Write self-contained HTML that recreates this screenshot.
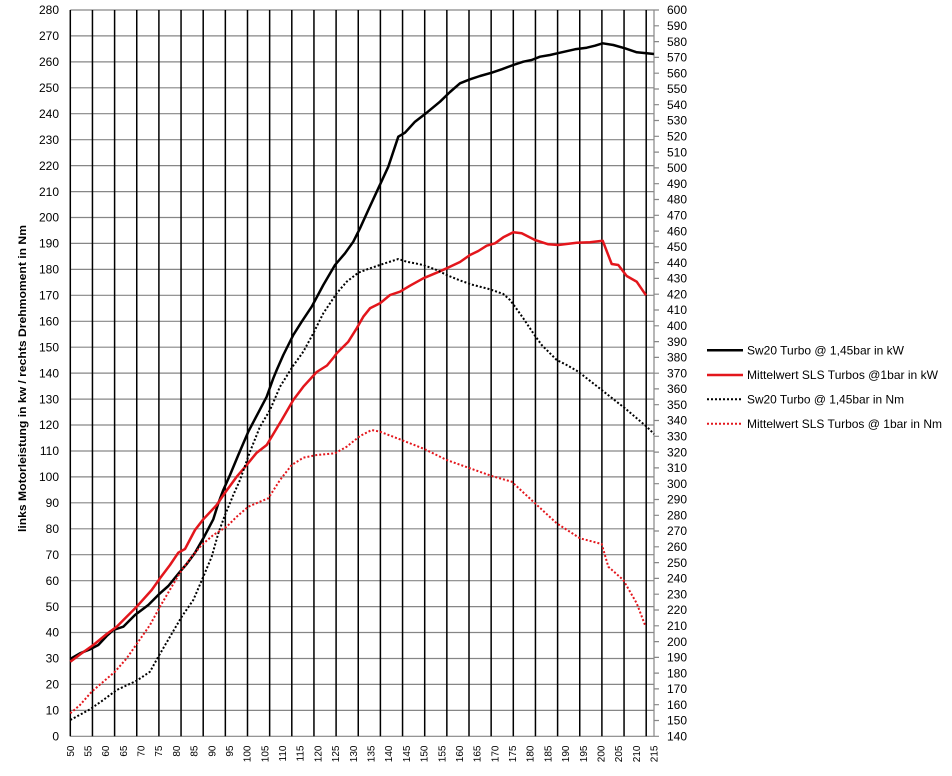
<!DOCTYPE html>
<html><head><meta charset="utf-8"><style>
html,body{margin:0;padding:0;background:#fff;}
svg{display:block;}
text{font-family:"Liberation Sans",Arial,sans-serif;fill:#000;}
</style></head><body>
<svg width="952" height="776" viewBox="0 0 952 776" xmlns="http://www.w3.org/2000/svg">
<rect x="0" y="0" width="952" height="776" fill="#fff"/>
<!-- horizontal gridlines -->
<g stroke="#868686" stroke-width="1.2" fill="none">
<path d="M70.3 736.3H654M70.3 710.4H654M70.3 684.4H654M70.3 658.5H654M70.3 632.5H654M70.3 606.6H654M70.3 580.7H654M70.3 554.7H654M70.3 528.8H654M70.3 502.8H654M70.3 476.9H654M70.3 451H654M70.3 425H654M70.3 399.1H654M70.3 373.1H654M70.3 347.2H654M70.3 321.3H654M70.3 295.3H654M70.3 269.4H654M70.3 243.4H654M70.3 217.5H654M70.3 191.6H654M70.3 165.6H654M70.3 139.7H654M70.3 113.7H654M70.3 87.8H654M70.3 61.9H654M70.3 35.9H654M70.3 10H654"/>
<path d="M654 10V736.3"/>
<path d="M654 736.3h5M654 720.5h5M654 704.7h5M654 688.9h5M654 673.1h5M654 657.4h5M654 641.6h5M654 625.8h5M654 610h5M654 594.2h5M654 578.4h5M654 562.6h5M654 546.8h5M654 531h5M654 515.3h5M654 499.5h5M654 483.7h5M654 467.9h5M654 452.1h5M654 436.3h5M654 420.5h5M654 404.7h5M654 388.9h5M654 373.2h5M654 357.4h5M654 341.6h5M654 325.8h5M654 310h5M654 294.2h5M654 278.4h5M654 262.6h5M654 246.8h5M654 231.1h5M654 215.3h5M654 199.5h5M654 183.7h5M654 167.9h5M654 152.1h5M654 136.3h5M654 120.5h5M654 104.7h5M654 89h5M654 73.2h5M654 57.4h5M654 41.6h5M654 25.8h5M654 10h5"/>
</g>
<!-- vertical gridlines -->
<g stroke="#000" stroke-width="1.5" fill="none">
<path d="M70.3 10V736.3M92.45 10V736.3M114.6 10V736.3M136.75 10V736.3M158.9 10V736.3M181.05 10V736.3M203.2 10V736.3M225.35 10V736.3M247.5 10V736.3M269.65 10V736.3M291.8 10V736.3M313.95 10V736.3M336.1 10V736.3M358.25 10V736.3M380.4 10V736.3M402.55 10V736.3M424.7 10V736.3M446.85 10V736.3M469 10V736.3M491.15 10V736.3M513.3 10V736.3M535.45 10V736.3M557.6 10V736.3M579.75 10V736.3M601.9 10V736.3M624.05 10V736.3M646.2 10V736.3"/>
</g>

<!-- series -->
<g fill="none" stroke-linejoin="round">
<polyline stroke="#000" stroke-width="2.5" points="70.3,659 80,653.3 90,649.3 98.3,645 106.7,636 113.3,630 123.3,626.7 135,615 148.3,605 160,593.3 168.3,586 180,571.7 186.7,564 195,552.7 203.3,538.3 213.3,519.3 218.3,503.3 223.3,490 230,475 238.3,455 248.3,431.7 258.3,412.7 266.7,396.7 273.3,378.3 276.7,370 283.3,355 293.3,335 301.7,321.7 311.7,306.7 323.3,285 335,265 345,253.3 353.3,241.7 360,228.3 368.3,210 378.3,188.3 388.3,166.7 393.3,151.7 398.3,136.7 405,132.7 415,121.7 426.7,112.7 440,101.7 450,92 460,83.3 470,79.3 480,76 491.7,72.7 501.7,69.3 513.3,65 523.3,61.7 531.7,60 540,56.7 550,55 560,52.7 575,49.3 586.7,47.7 595,45.7 602.7,43.3 613.3,45 625,48.3 636.7,52.3 646.7,53.3 654,54"/>
<polyline stroke="#e3161c" stroke-width="2.5" points="70.3,661.7 81.7,653.3 93.3,645 106.7,634 116.7,626.7 136.7,606.7 151.7,590 160,578.3 170,565 178.3,552.7 185,549 195,530 203.3,519.3 216.7,505 225,492.7 236.7,476.7 246.7,465 256.7,452.7 266.7,445 281.7,420 293.3,400 303.3,386.7 316.7,372 327,365.5 334,357 336.7,353.3 348.3,341.7 356.7,328.3 363.3,316.7 370,308.3 380,303.3 390,295 400,291.7 410,285.7 423.3,278.3 436.7,272.7 446.7,268.3 460,262 470,255 478.3,251 486.7,245.7 495,243.3 503.3,237.3 513.3,232.3 521.7,233.3 535,240 548.3,244.3 558.3,245 576.7,242.7 590,242.3 602.7,240.7 611.7,264 618.3,265 626.7,276 636.7,281.7 646,295.3"/>
<polyline stroke="#000" stroke-width="2" stroke-dasharray="2 2" points="70.3,720 90,709.3 103.3,700 116.7,690 136.7,680.7 150,671.7 158.3,656.7 170,636.7 181.7,616.7 193.3,600 203.3,576.7 211.7,556.7 218.3,533.3 225,515 233.3,495 240,480 250,451.7 260,426.7 270,410 280,386.7 293,366 303.3,351.7 313.3,333.3 323.3,313.3 336.7,293.3 346.7,281.7 358.3,272.7 370,268.3 385,263.3 398.3,259 406.7,261.7 423.3,265 436.7,270 446.7,275 460,280.5 473.3,285 490,289.3 503.3,294 510,300 515,306.7 523.3,318.3 533.3,333.3 541.7,345 550,353.3 556.7,360 566.7,365 578.3,371.7 601.7,390 625,408.3 646.7,426.7 654,434"/>
<polyline stroke="#e3161c" stroke-width="2" stroke-dasharray="2 2" points="70.3,713.3 80,705 91.7,691.7 103.3,681.7 115,671.7 126.7,658.3 138.3,641.7 150,625 160,606.7 171.7,586.7 181.7,570 191.7,556.7 201.7,545 213.3,535 226.7,526.7 236.7,516.7 248.3,506.7 260,501.7 268.3,498.3 280,480 291.7,465 303.3,457.7 316.7,455 335,453.3 346.7,446.7 360,436 371.7,430 380,431.7 401.7,440 425,449.3 446.7,460 470,468.3 491.7,476 511.7,481.7 533.3,501.7 556.7,523.3 580,538.3 601.7,544 608.3,566.7 623.3,580 636.7,603.3 645,625"/>
</g>

<!-- left axis labels -->
<g font-size="12" text-anchor="end">
<text x="59" y="740.5">0</text>
<text x="59" y="714.6">10</text>
<text x="59" y="688.6">20</text>
<text x="59" y="662.7">30</text>
<text x="59" y="636.7">40</text>
<text x="59" y="610.8">50</text>
<text x="59" y="584.9">60</text>
<text x="59" y="558.9">70</text>
<text x="59" y="533">80</text>
<text x="59" y="507">90</text>
<text x="59" y="481.1">100</text>
<text x="59" y="455.2">110</text>
<text x="59" y="429.2">120</text>
<text x="59" y="403.3">130</text>
<text x="59" y="377.3">140</text>
<text x="59" y="351.4">150</text>
<text x="59" y="325.5">160</text>
<text x="59" y="299.5">170</text>
<text x="59" y="273.6">180</text>
<text x="59" y="247.6">190</text>
<text x="59" y="221.7">200</text>
<text x="59" y="195.8">210</text>
<text x="59" y="169.8">220</text>
<text x="59" y="143.9">230</text>
<text x="59" y="117.9">240</text>
<text x="59" y="92">250</text>
<text x="59" y="66.1">260</text>
<text x="59" y="40.1">270</text>
<text x="59" y="14.2">280</text>
</g>

<!-- right axis labels -->
<g font-size="12" text-anchor="start">
<text x="667" y="740.5">140</text>
<text x="667" y="724.7">150</text>
<text x="667" y="708.9">160</text>
<text x="667" y="693.1">170</text>
<text x="667" y="677.3">180</text>
<text x="667" y="661.6">190</text>
<text x="667" y="645.8">200</text>
<text x="667" y="630">210</text>
<text x="667" y="614.2">220</text>
<text x="667" y="598.4">230</text>
<text x="667" y="582.6">240</text>
<text x="667" y="566.8">250</text>
<text x="667" y="551">260</text>
<text x="667" y="535.2">270</text>
<text x="667" y="519.5">280</text>
<text x="667" y="503.7">290</text>
<text x="667" y="487.9">300</text>
<text x="667" y="472.1">310</text>
<text x="667" y="456.3">320</text>
<text x="667" y="440.5">330</text>
<text x="667" y="424.7">340</text>
<text x="667" y="408.9">350</text>
<text x="667" y="393.1">360</text>
<text x="667" y="377.4">370</text>
<text x="667" y="361.6">380</text>
<text x="667" y="345.8">390</text>
<text x="667" y="330">400</text>
<text x="667" y="314.2">410</text>
<text x="667" y="298.4">420</text>
<text x="667" y="282.6">430</text>
<text x="667" y="266.8">440</text>
<text x="667" y="251">450</text>
<text x="667" y="235.3">460</text>
<text x="667" y="219.5">470</text>
<text x="667" y="203.7">480</text>
<text x="667" y="187.9">490</text>
<text x="667" y="172.1">500</text>
<text x="667" y="156.3">510</text>
<text x="667" y="140.5">520</text>
<text x="667" y="124.7">530</text>
<text x="667" y="108.9">540</text>
<text x="667" y="93.2">550</text>
<text x="667" y="77.4">560</text>
<text x="667" y="61.6">570</text>
<text x="667" y="45.8">580</text>
<text x="667" y="30">590</text>
<text x="667" y="14.2">600</text>
</g>

<!-- x axis labels (rotated) -->
<g font-size="10" text-anchor="end">
<text transform="translate(70.3,745.5) rotate(-90)" dy="0.35em">50</text>
<text transform="translate(88,745.5) rotate(-90)" dy="0.35em">55</text>
<text transform="translate(105.7,745.5) rotate(-90)" dy="0.35em">60</text>
<text transform="translate(123.4,745.5) rotate(-90)" dy="0.35em">65</text>
<text transform="translate(141.1,745.5) rotate(-90)" dy="0.35em">70</text>
<text transform="translate(158.7,745.5) rotate(-90)" dy="0.35em">75</text>
<text transform="translate(176.4,745.5) rotate(-90)" dy="0.35em">80</text>
<text transform="translate(194.1,745.5) rotate(-90)" dy="0.35em">85</text>
<text transform="translate(211.8,745.5) rotate(-90)" dy="0.35em">90</text>
<text transform="translate(229.5,745.5) rotate(-90)" dy="0.35em">95</text>
<text transform="translate(247.2,745.5) rotate(-90)" dy="0.35em">100</text>
<text transform="translate(264.9,745.5) rotate(-90)" dy="0.35em">105</text>
<text transform="translate(282.6,745.5) rotate(-90)" dy="0.35em">110</text>
<text transform="translate(300.2,745.5) rotate(-90)" dy="0.35em">115</text>
<text transform="translate(317.9,745.5) rotate(-90)" dy="0.35em">120</text>
<text transform="translate(335.6,745.5) rotate(-90)" dy="0.35em">125</text>
<text transform="translate(353.3,745.5) rotate(-90)" dy="0.35em">130</text>
<text transform="translate(371,745.5) rotate(-90)" dy="0.35em">135</text>
<text transform="translate(388.7,745.5) rotate(-90)" dy="0.35em">140</text>
<text transform="translate(406.4,745.5) rotate(-90)" dy="0.35em">145</text>
<text transform="translate(424.1,745.5) rotate(-90)" dy="0.35em">150</text>
<text transform="translate(441.8,745.5) rotate(-90)" dy="0.35em">155</text>
<text transform="translate(459.4,745.5) rotate(-90)" dy="0.35em">160</text>
<text transform="translate(477.1,745.5) rotate(-90)" dy="0.35em">165</text>
<text transform="translate(494.8,745.5) rotate(-90)" dy="0.35em">170</text>
<text transform="translate(512.5,745.5) rotate(-90)" dy="0.35em">175</text>
<text transform="translate(530.2,745.5) rotate(-90)" dy="0.35em">180</text>
<text transform="translate(547.9,745.5) rotate(-90)" dy="0.35em">185</text>
<text transform="translate(565.6,745.5) rotate(-90)" dy="0.35em">190</text>
<text transform="translate(583.3,745.5) rotate(-90)" dy="0.35em">195</text>
<text transform="translate(600.9,745.5) rotate(-90)" dy="0.35em">200</text>
<text transform="translate(618.6,745.5) rotate(-90)" dy="0.35em">205</text>
<text transform="translate(636.3,745.5) rotate(-90)" dy="0.35em">210</text>
<text transform="translate(654,745.5) rotate(-90)" dy="0.35em">215</text>
</g>

<!-- y axis title -->
<text transform="translate(26,378.5) rotate(-90)" text-anchor="middle" font-size="11" font-weight="bold" textLength="307" lengthAdjust="spacingAndGlyphs">links Motorleistung in kw / rechts Drehmoment in Nm</text>

<!-- legend -->
<g fill="none">
<path d="M707 350.3H743" stroke="#000" stroke-width="2.5"/>
<path d="M707 375H743" stroke="#e3161c" stroke-width="2.5"/>
<path d="M707 399.3H743" stroke="#000" stroke-width="2" stroke-dasharray="2 2"/>
<path d="M707 423.7H743" stroke="#e3161c" stroke-width="2" stroke-dasharray="2 2"/>
</g>
<g font-size="12">
<text x="747" y="354.5" textLength="157" lengthAdjust="spacingAndGlyphs">Sw20 Turbo @ 1,45bar in kW</text>
<text x="747" y="379.2" textLength="191" lengthAdjust="spacingAndGlyphs">Mittelwert SLS Turbos @1bar in kW</text>
<text x="747" y="403.5" textLength="157" lengthAdjust="spacingAndGlyphs">Sw20 Turbo @ 1,45bar in Nm</text>
<text x="747" y="427.9" textLength="195" lengthAdjust="spacingAndGlyphs">Mittelwert SLS Turbos @ 1bar in Nm</text>
</g>
</svg>
</body></html>
